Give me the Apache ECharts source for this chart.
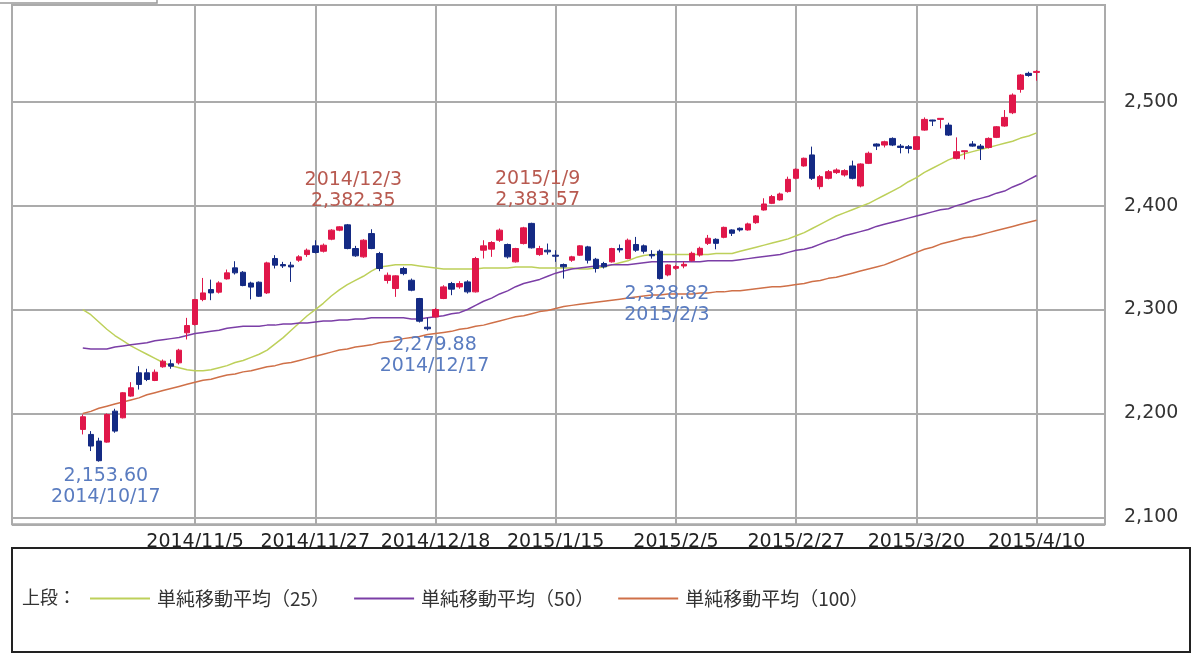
<!DOCTYPE html>
<html><head><meta charset="utf-8">
<script src="https://cdn.jsdelivr.net/npm/echarts@6/dist/echarts.min.js"></script>
<style>html,body{margin:0;padding:0;background:#fff}#c{width:1200px;height:661px}</style>
</head><body><div id="c"></div>
<script>
const dates = [
'2014/10/15','2014/10/16','2014/10/17','2014/10/20','2014/10/21','2014/10/22','2014/10/23','2014/10/24','2014/10/27','2014/10/28',
'2014/10/29','2014/10/30','2014/10/31','2014/11/4','2014/11/5','2014/11/6','2014/11/7','2014/11/10','2014/11/11','2014/11/12',
'2014/11/13','2014/11/14','2014/11/17','2014/11/18','2014/11/19','2014/11/20','2014/11/21','2014/11/25','2014/11/26','2014/11/27',
'2014/11/28','2014/12/1','2014/12/2','2014/12/3','2014/12/4','2014/12/5','2014/12/8','2014/12/9','2014/12/10','2014/12/11',
'2014/12/12','2014/12/15','2014/12/16','2014/12/17','2014/12/18','2014/12/19','2014/12/22','2014/12/24','2014/12/25','2014/12/26',
'2014/12/29','2014/12/30','2015/1/5','2015/1/6','2015/1/7','2015/1/8','2015/1/9','2015/1/13','2015/1/14','2015/1/15',
'2015/1/16','2015/1/19','2015/1/20','2015/1/21','2015/1/22','2015/1/23','2015/1/26','2015/1/27','2015/1/28','2015/1/29',
'2015/1/30','2015/2/2','2015/2/3','2015/2/4','2015/2/5','2015/2/6','2015/2/9','2015/2/10','2015/2/12','2015/2/13',
'2015/2/16','2015/2/17','2015/2/18','2015/2/19','2015/2/20','2015/2/23','2015/2/24','2015/2/25','2015/2/26','2015/2/27',
'2015/3/2','2015/3/3','2015/3/4','2015/3/5','2015/3/6','2015/3/9','2015/3/10','2015/3/11','2015/3/12','2015/3/13',
'2015/3/16','2015/3/17','2015/3/18','2015/3/19','2015/3/20','2015/3/23','2015/3/24','2015/3/25','2015/3/26','2015/3/27',
'2015/3/30','2015/3/31','2015/4/1','2015/4/2','2015/4/3','2015/4/6','2015/4/7','2015/4/8','2015/4/9','2015/4/10'];

const opens = [
2184.6,2179.8,2173.4,2172.4,2202.2,2195.8,2216.7,2239.1,2239.1,2231.7,
2244.9,2247.8,2248.7,2277.6,2285.6,2309.6,2319.2,2316.7,2329.5,2340.1,
2335.9,2325.5,2326.3,2316.0,2349.1,2343.3,2342.7,2347.5,2352.9,2361.3,
2356.1,2367.7,2376.4,2381.5,2358.7,2350.7,2373.1,2353.9,2328.0,2320.2,
2339.5,2328.2,2310.6,2283.0,2292.9,2310.6,2325.0,2321.8,2326.6,2317.0,
2357.1,2358.1,2366.7,2362.6,2345.9,2363.5,2382.9,2352.9,2357.1,2352.3,
2343.3,2347.5,2352.3,2360.3,2348.4,2344.3,2345.9,2358.7,2349.1,2362.6,
2361.3,2352.9,2356.1,2333.3,2339.7,2341.9,2347.1,2352.5,2363.7,2367.6,
2369.5,2376.6,2378.2,2376.6,2383.6,2395.8,2402.2,2405.5,2413.5,2426.3,
2438.2,2448.8,2418.3,2426.3,2431.8,2429.5,2438.2,2418.9,2440.7,2459.3,
2458.3,2464.7,2457.3,2456.7,2454.1,2472.7,2482.4,2483.0,2477.5,2445.5,
2451.9,2459.3,2457.3,2456.0,2465.7,2476.6,2489.4,2511.9,2527.3,2528.2];

const closes = [
2196.8,2168.6,2154.5,2199.0,2183.0,2219.9,2224.7,2227.9,2232.7,2239.7,
2250.3,2245.5,2260.9,2284.6,2309.6,2316.0,2316.0,2325.6,2335.3,2335.3,
2323.1,2321.6,2312.8,2344.9,2342.7,2342.0,2341.0,2350.7,2357.1,2354.9,
2361.9,2376.4,2379.6,2358.7,2351.7,2366.7,2358.7,2339.5,2333.0,2332.4,
2334.6,2318.6,2288.8,2281.5,2300.0,2321.8,2319.6,2325.0,2317.0,2349.1,
2361.3,2364.5,2376.4,2350.7,2358.7,2378.6,2359.4,2358.7,2355.5,2351.3,
2341.1,2350.7,2361.3,2347.5,2339.5,2341.1,2358.7,2357.4,2366.7,2357.1,
2356.1,2351.7,2329.8,2342.9,2341.3,2343.5,2354.1,2358.9,2368.6,2363.7,
2379.1,2373.4,2376.6,2382.4,2390.1,2401.6,2408.7,2411.2,2425.3,2435.0,
2445.6,2426.3,2427.9,2432.7,2434.3,2433.7,2426.3,2440.1,2450.4,2457.3,
2461.5,2458.3,2456.0,2455.1,2466.3,2483.0,2481.4,2484.0,2467.9,2451.9,
2452.8,2457.3,2455.1,2464.7,2475.9,2484.9,2506.4,2525.7,2525.3,2529.2];

const lows = [
2179.8,2163.8,2153.6,2171.8,2181.4,2195.2,2216.0,2223.0,2231.1,2231.1,
2244.0,2243.0,2247.1,2271.2,2284.6,2308.0,2309.0,2315.4,2328.8,2333.7,
2322.4,2309.8,2312.2,2315.0,2339.5,2340.0,2326.6,2345.9,2350.7,2354.0,
2354.9,2366.7,2375.4,2358.0,2350.7,2349.8,2358.1,2336.9,2325.0,2312.2,
2333.0,2317.6,2287.5,2279.88,2291.9,2310.0,2313.8,2320.0,2315.4,2316.4,
2349.1,2350.7,2365.1,2349.1,2345.2,2362.6,2358.7,2351.7,2352.9,2345.9,
2329.8,2345.9,2351.7,2344.3,2335.6,2339.5,2345.2,2354.9,2348.4,2355.5,
2353.9,2349.0,2328.82,2332.0,2338.1,2339.7,2346.1,2350.9,2362.1,2358.0,
2368.6,2370.8,2375.0,2375.9,2382.5,2395.2,2401.5,2404.8,2412.5,2425.3,
2437.5,2424.7,2415.7,2425.3,2430.5,2427.9,2425.3,2417.6,2440.0,2453.5,
2456.0,2457.3,2450.3,2450.3,2453.5,2472.1,2476.6,2474.3,2467.0,2444.5,
2444.5,2456.7,2443.9,2455.0,2465.0,2475.9,2488.1,2508.7,2524.1,2520.2];

const highs = [
2199.0,2183.0,2176.6,2200.0,2204.5,2220.5,2230.1,2245.5,2243.0,2242.3,
2251.9,2251.9,2262.2,2292.0,2310.2,2330.4,2328.8,2327.2,2338.5,2346.5,
2337.0,2326.8,2327.0,2346.0,2352.3,2345.9,2345.9,2352.3,2358.7,2366.7,
2363.5,2377.3,2380.2,2382.35,2361.3,2367.7,2377.3,2355.5,2335.6,2333.0,
2341.1,2329.8,2311.2,2292.0,2301.6,2323.4,2326.6,2327.3,2328.2,2350.7,
2366.7,2365.8,2378.0,2363.5,2359.4,2379.6,2383.57,2361.3,2363.5,2357.1,
2344.3,2351.7,2361.9,2361.3,2349.7,2345.9,2359.4,2362.6,2368.3,2369.9,
2362.6,2357.1,2357.7,2343.5,2342.9,2346.1,2355.7,2360.5,2371.8,2368.6,
2379.8,2377.2,2379.0,2383.6,2391.0,2407.1,2410.3,2412.5,2427.9,2435.9,
2446.2,2456.8,2429.5,2434.3,2435.9,2435.0,2443.3,2440.7,2452.0,2459.9,
2462.5,2465.7,2459.3,2458.3,2467.0,2484.9,2482.6,2484.3,2479.8,2465.7,
2453.0,2462.1,2459.3,2465.7,2476.6,2492.0,2508.0,2526.6,2528.9,2530.5];

const ma25 = [
2300,2295,2288,2281,2275,2270,2265,2261,2257,2253,
2249,2246,2244,2242,2241,2241,2242,2244,2246,2249,
2251,2254,2257,2261,2267,2273,2280,2287,2294,2300,
2306,2313,2319,2324,2328,2332,2337,2341,2342,2343,
2343,2343,2342,2341,2340,2339,2339,2339,2339,2339,
2340,2340,2340,2340,2341,2341,2341,2340,2340,2340,
2340,2340,2339,2339,2340,2341,2343,2345,2347,2350,
2352,2353,2353,2353,2353,2353,2353,2353,2353,2354,
2354,2354,2356,2358,2360,2362,2364,2366,2368,2371,
2374,2378,2382,2386,2390,2393,2396,2399,2402,2406,
2410,2414,2418,2423,2427,2432,2436,2440,2444,2447,
2450,2452,2454,2456,2458,2460,2462,2465,2467,2470];

const ma50 = [
2263,2262,2262,2262,2264,2265,2266,2267,2268,2270,
2271,2272,2273,2275,2277,2278,2279,2280,2282,2283,
2284,2284,2284,2285,2285,2286,2286,2287,2287,2288,
2289,2289,2290,2290,2291,2291,2292,2292,2292,2292,
2292,2291,2291,2292,2293,2294,2296,2297,2300,2304,
2308,2311,2315,2318,2322,2325,2327,2329,2332,2335,
2337,2339,2340,2341,2342,2342,2343,2343,2343,2344,
2345,2346,2346,2346,2346,2346,2346,2346,2347,2347,
2347,2347,2348,2349,2350,2351,2352,2353,2355,2357,
2358,2360,2363,2366,2368,2371,2373,2375,2377,2380,
2382,2384,2386,2388,2390,2392,2394,2396,2397,2400,
2402,2405,2407,2409,2412,2414,2418,2421,2425,2429];

const ma100 = [
2200,2202,2205,2207,2209,2211,2213,2215,2218,2220,
2222,2224,2226,2228,2230,2232,2233,2235,2237,2238,
2240,2241,2243,2245,2246,2248,2249,2251,2253,2255,
2257,2259,2261,2262,2264,2265,2266,2268,2269,2270,
2272,2273,2274,2276,2277,2278,2279,2281,2282,2284,
2285,2287,2289,2291,2293,2294,2296,2298,2299,2301,
2303,2304,2305,2306,2307,2308,2309,2310,2311,2312,
2313,2314,2314,2315,2315,2315,2315,2316,2316,2317,
2317,2318,2318,2319,2320,2321,2322,2322,2323,2324,
2325,2327,2328,2330,2331,2333,2335,2337,2339,2341,
2343,2346,2349,2352,2355,2358,2360,2363,2365,2367,
2369,2370,2372,2374,2376,2378,2380,2382,2384,2386];

const axisDates = ['2014/11/5','2014/11/27','2014/12/18','2015/1/15','2015/2/5','2015/2/27','2015/3/20','2015/4/10'];
const seriesNames = ['単純移動平均（25）','単純移動平均（50）','単純移動平均（100）'];
const notes = [
  {date:'2014/10/17', value:2153.60, kind:'low'},
  {date:'2014/12/3',  value:2382.35, kind:'high'},
  {date:'2014/12/17', value:2279.88, kind:'low'},
  {date:'2015/1/9',   value:2383.57, kind:'high'},
  {date:'2015/2/3',   value:2328.82, kind:'low'}
];

const PAD = 9;
const categories = [];
for (let k = 0; k < PAD; k++) categories.push('pl' + k);
dates.forEach(d => categories.push(d));
for (let k = 0; k < PAD; k++) categories.push('pr' + k);
const shown = new Set(axisDates.map(d => categories.indexOf(d)));
const showFn = (idx) => shown.has(idx);

const candles = dates.map((d, i) => [d, opens[i], closes[i], lows[i], highs[i]]);
const lineData = arr => dates.map((d, i) => [d, arr[i]]);
const fmt = v => v.toLocaleString('en-US', {minimumFractionDigits: 2, maximumFractionDigits: 2});

const RED = '#e0174a', NAVY = '#142a84';
const HIGHC = '#b85a50', LOWC = '#5a7cc0';
const GRID = '#ababab';
const YMIN = 2093.3, YMAX = 2593.1;

const markData = notes.map(n => {
  const high = n.kind === 'high';
  return {
    coord: [n.date, n.value],
    symbol: 'circle', symbolSize: 0,
    label: {
      show: true,
      position: high ? 'top' : 'bottom',
      distance: high ? 12 : 4,
      offset: [high ? 6 : 7, 0],
      color: high ? HIGHC : LOWC,
      fontSize: 19, lineHeight: 21,
      fontFamily: 'DejaVu Sans',
      formatter: high ? (n.date + '\n' + fmt(n.value)) : (fmt(n.value) + '\n' + n.date)
    }
  };
});

const chart = echarts.init(document.getElementById('c'), null, {renderer: 'canvas'});
chart.setOption({
  animation: false,
  backgroundColor: '#fff',
  grid: [
    {left: 10.66, right: 91.2, top: 5, bottom: 136.7, show: false},
    {left: 12, right: 95, top: 5, bottom: 136.7, show: true, borderColor: GRID, borderWidth: 2, backgroundColor: 'transparent'}
  ],
  xAxis: [
    {
      type: 'category', gridIndex: 0, data: categories, boundaryGap: false,
      axisLine: {show: false}, axisTick: {show: false},
      axisLabel: {interval: showFn, color: '#222', fontSize: 19, fontFamily: 'DejaVu Sans', margin: 8},
      splitLine: {show: true, interval: showFn, lineStyle: {color: GRID, width: 2}}
    },
    {type: 'value', gridIndex: 1, show: false, min: 0, max: 1}
  ],
  yAxis: [
    {type: 'value', gridIndex: 0, min: YMIN, max: YMAX, show: false, splitLine: {show: false}},
    {
      type: 'value', gridIndex: 1, min: YMIN, max: YMAX, position: 'right',
      axisLine: {show: false},
      axisTick: {show: true, length: 10, lineStyle: {color: GRID, width: 2}},
      axisLabel: {showMinLabel: false, showMaxLabel: false, color: '#333', fontSize: 19, fontFamily: 'DejaVu Sans', margin: 19},
      splitLine: {show: true, lineStyle: {color: GRID, width: 2}}
    }
  ],
  legend: {
    data: seriesNames, left: 85, top: 584, icon: 'rect', itemWidth: 60, itemHeight: 2, itemGap: 24,
    textStyle: {fontSize: 19, color: '#333', fontFamily: 'Noto Sans CJK JP', padding: [0, 0, 0, 2]}
  },
  series: [
    {name: seriesNames[0], type: 'line', xAxisIndex: 0, yAxisIndex: 0, data: lineData(ma25), showSymbol: false, color: '#bdd05a', lineStyle: {color: '#bdd05a', width: 1.5}, z: 1},
    {name: seriesNames[1], type: 'line', xAxisIndex: 0, yAxisIndex: 0, data: lineData(ma50), showSymbol: false, color: '#7b3ea6', lineStyle: {color: '#7b3ea6', width: 1.5}, z: 1},
    {name: seriesNames[2], type: 'line', xAxisIndex: 0, yAxisIndex: 0, data: lineData(ma100), showSymbol: false, color: '#cf7048', lineStyle: {color: '#cf7048', width: 1.5}, z: 1},
    {
      name: 'price', type: 'candlestick', xAxisIndex: 0, yAxisIndex: 0, data: candles,
      encode: {x: 0, y: [1, 2, 3, 4]}, barWidth: 6, z: 3,
      itemStyle: {color: RED, color0: NAVY, borderColor: RED, borderColor0: NAVY, borderWidth: 1},
      markPoint: {data: markData, silent: true}
    }
  ],
  graphic: [
    {type: 'rect', shape: {x: -3, y: -20, width: 160, height: 23}, style: {fill: 'none', stroke: '#999', lineWidth: 1.5}},
    {type: 'rect', shape: {x: 12, y: 548, width: 1178, height: 104}, style: {fill: 'none', stroke: '#222', lineWidth: 2}},
    {type: 'text', left: 22, top: 588, style: {text: '上段：', fontSize: 18, fill: '#333', fontFamily: 'Noto Sans CJK JP'}}
  ]
});
</script></body></html>
